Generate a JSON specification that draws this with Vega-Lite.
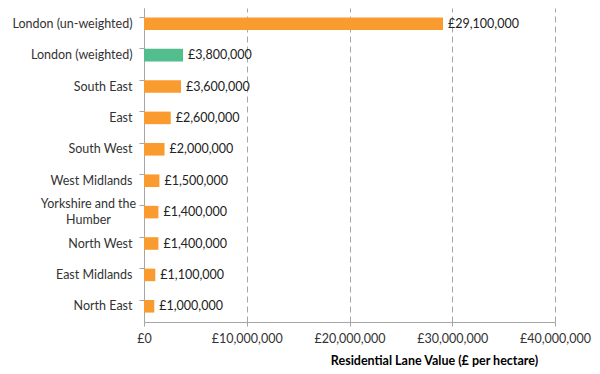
{
  "$schema": "https://vega.github.io/schema/vega-lite/v6.json",
  "autosize": "none",
  "width": 411,
  "height": 314,
  "padding": {"left": 144, "top": 8, "right": 45, "bottom": 52},
  "background": "white",
  "config": {
    "view": {"stroke": null},
    "font": "Lato",
    "axis": {"labelFont": "Lato", "titleFont": "Lato"}
  },
  "data": {
    "values": [
      {"region": "London (un-weighted)", "value": 29100000, "label": "£29,100,000", "type": "orange"},
      {"region": "London (weighted)", "value": 3800000, "label": "£3,800,000", "type": "green"},
      {"region": "South East", "value": 3600000, "label": "£3,600,000", "type": "orange"},
      {"region": "East", "value": 2600000, "label": "£2,600,000", "type": "orange"},
      {"region": "South West", "value": 2000000, "label": "£2,000,000", "type": "orange"},
      {"region": "West Midlands", "value": 1500000, "label": "£1,500,000", "type": "orange"},
      {"region": "Yorkshire and the Humber", "value": 1400000, "label": "£1,400,000", "type": "orange"},
      {"region": "North West", "value": 1400000, "label": "£1,400,000", "type": "orange"},
      {"region": "East Midlands", "value": 1100000, "label": "£1,100,000", "type": "orange"},
      {"region": "North East", "value": 1000000, "label": "£1,000,000", "type": "orange"}
    ]
  },
  "encoding": {
    "y": {
      "field": "region",
      "type": "nominal",
      "sort": null,
      "scale": {"paddingInner": 0.6, "paddingOuter": 0.3},
      "axis": {
        "title": null,
        "bandPosition": 0,
        "domainColor": "#A6A6A6",
        "tickColor": "#A6A6A6",
        "tickSize": 5,
        "labelFontSize": 12.5,
        "labelColor": "#333333",
        "labelPadding": {"condition": {"test": "datum.value == 'Yorkshire and the Humber'", "value": 51}, "value": 7},
        "labelAlign": {"condition": {"test": "datum.value == 'Yorkshire and the Humber'", "value": "center"}, "value": "right"},
        "labelExpr": "datum.value == 'Yorkshire and the Humber' ? ['Yorkshire and the', 'Humber'] : datum.value",
        "labelLineHeight": 16,
        "labelOffset": {"condition": {"test": "datum.value == 'Yorkshire and the Humber'", "value": -8}, "value": 0}
      }
    }
  },
  "layer": [
    {
      "mark": {"type": "bar"},
      "encoding": {
        "x": {
          "field": "value",
          "type": "quantitative",
          "scale": {"domain": [0, 40000000]},
          "axis": {
            "title": "Residential Lane Value (£ per hectare)",
            "titleFontSize": 12.5,
            "titleFontWeight": "bold",
            "titleColor": "#000000",
            "titleX": 290,
            "titleAlign": "center",
            "titlePadding": 10,
            "values": [0, 10000000, 20000000, 30000000, 40000000],
            "labelExpr": "'£' + format(datum.value, ',')",
            "labelFlush": false,
            "labelOverlap": false,
            "labelFontSize": 12.5,
            "labelColor": "#333333",
            "labelPadding": 6,
            "domainColor": "#A6A6A6",
            "tickColor": "#A6A6A6",
            "tickSize": 4,
            "grid": true,
            "gridColor": "#A6A6A6",
            "gridDash": [6, 4],
            "gridWidth": 1
          }
        },
        "color": {
          "field": "type",
          "type": "nominal",
          "scale": {"domain": ["orange", "green"], "range": ["#F99B2E", "#52BE8E"]},
          "legend": null
        }
      }
    },
    {
      "mark": {"type": "text", "align": "left", "dx": 5, "fontSize": 12.5, "color": "#222222", "font": "Lato"},
      "encoding": {
        "x": {"field": "value", "type": "quantitative"},
        "text": {"field": "label"}
      }
    }
  ]
}
